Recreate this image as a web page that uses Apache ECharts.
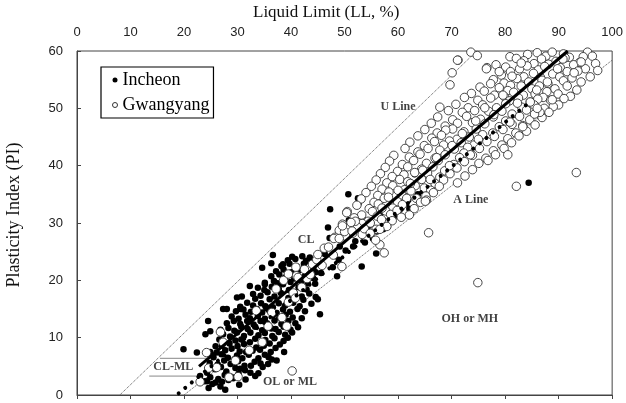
<!DOCTYPE html>
<html>
<head>
<meta charset="utf-8">
<script src="https://cdn.jsdelivr.net/npm/echarts@6/dist/echarts.min.js"></script>
<style>
  html, body { margin: 0; padding: 0; background: #fff; }
  #chart { width: 626px; height: 403px; }
</style>
</head>
<body>
<div id="chart"></div>
<script>
// Plasticity chart: Liquid Limit (LL) vs Plasticity Index (PI)

const xTicks = [0, 10, 20, 30, 40, 50, 60, 70, 80, 90, 100];
const yTicks = [0, 10, 20, 30, 40, 50, 60];

// Incheon samples [LL, PI]
const incheon = [
  [24.6,1.2],[26.8,1.5],[25.3,1.9],[27.7,0.9],
  [23.8,2.4],[25.9,2.2],[28.3,2.6],[30.3,1.8],[29.2,2.9],[27.1,2.3],
  [24.9,3.1],[26.4,2.8],[27.6,3.5],[31.5,2.7],[33.3,3.3],[30.2,3.7],[28.8,3.2],[32.4,3.9],
  [24.3,3.9],[25.8,4.5],[27.9,4.1],[29.6,4.7],[31.4,4.3],[33.9,3.8],[34.7,4.9],[32.5,5.1],[30.5,4.6],[26.9,4.9],
  [24.8,5.6],[26.3,5.3],[27.5,6.0],[28.7,5.4],[30.1,5.9],[31.3,5.1],[33.2,5.8],[35.7,5.4],[36.4,6.2],[29.5,6.3],[34.3,5.5],
  [25.5,6.6],[27.0,7.1],[28.2,6.5],[29.9,6.9],[30.9,6.4],[32.1,7.0],[33.9,6.4],[35.1,7.0],[37.3,6.0],[35.8,6.6],[31.6,7.5],[26.1,7.4],
  [24.9,7.5],[27.7,7.8],[28.9,8.1],[30.4,7.6],[32.8,7.7],[34.2,7.9],[36.2,7.5],[37.1,8.2],[38.7,7.5],[33.5,8.3],[30.0,8.5],[25.9,8.5],
  [27.1,8.6],[28.5,9.0],[31.2,8.9],[32.3,9.2],[34.9,8.6],[36.0,9.0],[37.9,8.8],[26.6,9.7],[29.6,9.5],[33.3,9.8],
  [35.2,9.6],[36.9,9.9],[38.6,9.4],[39.4,10.0],[30.7,9.7],
  [27.3,10.6],[28.6,10.2],[29.9,10.9],[31.2,10.3],[32.4,10.9],[33.9,10.4],[35.1,10.8],[36.5,10.3],[37.7,11.0],
  [38.9,10.5],[40.2,10.9],[34.6,11.3],[31.9,11.5],
  [26.8,11.4],[28.3,11.7],[29.4,11.2],[30.7,11.9],[33.3,11.9],[35.9,12.0],[37.1,11.5],[38.6,11.9],[39.9,11.4],[41.3,11.8],[36.3,11.6],
  [28.0,12.5],[29.3,12.9],[30.5,12.4],[31.8,12.9],[33.0,12.3],[34.3,12.9],[35.5,12.5],[36.9,13.0],[38.2,12.4],
  [39.5,12.9],[40.8,12.5],[32.3,13.4],
  [28.9,13.7],[30.2,13.3],[31.5,14.0],[33.8,13.8],[35.1,13.3],[36.6,13.9],[37.8,13.5],[39.0,14.0],[40.3,13.5],
  [42.0,13.4],[34.6,14.4],[29.7,14.6],
  [31.1,14.9],[32.5,14.5],[33.6,15.0],[35.9,14.8],[37.3,14.3],[38.5,14.9],[39.8,14.5],[41.2,15.0],[42.6,14.6],
  [45.4,14.1],[36.6,15.3],[30.5,15.4],
  [31.8,16.1],[32.9,15.6],[34.4,16.0],[35.2,15.5],[37.7,16.0],[38.9,15.6],[40.4,16.1],[41.6,15.5],[43.8,15.9],
  [33.3,16.8],[36.0,16.7],[39.5,16.9],[42.3,16.6],[45.0,16.7],
  [32.9,17.6],[34.3,17.3],[35.6,17.9],[36.9,17.2],[38.1,17.8],[40.7,17.7],[42.0,17.2],[43.4,17.7],[44.6,17.1],[39.6,18.3],
  [33.8,18.7],[35.0,18.3],[36.4,18.9],[37.7,18.5],[41.4,18.8],[42.9,18.4],[38.5,19.3],
  [35.1,19.6],[36.8,19.9],[37.5,19.5],[39.9,19.7],[40.6,20.3],[41.9,19.8],[43.1,19.5],[44.5,19.4],
  [36.3,20.7],[37.8,21.0],[38.9,20.5],[41.0,20.9],[42.4,20.6],[44.1,20.4],[43.2,21.3],
  [37.2,21.6],[38.6,21.9],[40.1,21.4],[41.5,21.8],[42.7,21.4],[45.6,21.3],
  [38.2,22.5],[39.7,22.9],[41.1,22.4],[42.4,22.9],[44.2,21.9],
  [39.4,23.5],[40.8,23.7],[43.6,23.1],[40.2,24.1],[42.8,23.4],
  [19.9,8.0],[22.4,7.4],[24.0,10.6],[24.5,12.9],[24.9,11.1],[27.3,15.0],[28.0,15.0],[29.9,17.0],
  [30.5,15.0],[30.8,17.2],[32.3,19.0],[35.1,19.3],[34.6,22.2],[36.3,23.0],[36.6,24.4],[38.5,22.8],
  [42.1,24.2],[43.5,24.0],[23.0,3.3],[24.3,2.4],
  [46.9,25.7],[46.9,29.2],[47.3,32.4],[50.7,35.0],[52.5,34.3],[52.6,33.4],[50.8,30.5],[49.1,25.9],
  [51.6,25.9],[53.2,22.4],[48.6,20.7],[53.8,26.6],[55.3,27.3],[56.0,28.5],[55.9,24.7],[57.2,28.9],
  [58.1,29.4],[58.7,30.3],[60.3,32.3],[60.6,32.6],[61.5,33.3],[62.1,32.5],[61.9,34.0],[63.1,38.5],
  [63.7,35.0],[84.4,37.0],[50.2,25.2],[45.2,23.0],[46.3,24.6],[47.8,22.3],[48.9,23.6],[44.6,21.4],
  [47.2,27.4],[49.5,27.9],[52.0,26.8],[54.5,29.5],[53.4,30.8],[56.6,31.2],[59.2,31.1]
];

// Gwangyang samples [LL, PI]
const gwangyang = [
  [73.6,59.8],[74.8,59.2],[80.9,59.0],[86.0,59.7],[87.6,59.1],[88.8,59.8],[90.9,59.5],[92.0,58.9],[95.4,59.8],[96.3,59.1],[84.2,59.4],
  [71.2,58.4],[83.5,58.3],[85.4,57.8],[86.8,58.6],[89.5,58.2],[91.2,58.8],[93.9,58.0],[96.9,57.8],[94.6,59.0],[82.1,58.7],[88.1,57.7],
  [76.6,57.1],[78.3,57.6],[82.7,56.9],[84.1,57.4],[86.2,56.7],[87.4,57.3],[90.3,57.1],[92.8,57.6],[95.0,56.9],[97.3,56.6],[80.1,57.2],[91.6,56.4],
  [70.1,56.2],[79.3,55.8],[81.0,56.4],[83.5,55.5],[85.3,56.1],[88.9,56.0],[93.6,56.5],[95.9,55.5],[86.6,55.4],[90.2,55.5],
  [77.8,55.0],[79.8,54.4],[82.2,55.2],[84.4,54.6],[86.9,54.9],[88.0,54.3],[90.9,54.8],[92.5,55.3],[94.2,54.6],[81.0,54.0],
  [75.3,53.7],[77.3,54.3],[78.9,53.6],[83.0,53.9],[85.0,53.4],[86.4,53.9],[89.3,53.4],[91.6,53.9],[93.4,53.2],[80.5,53.1],[87.8,52.9],
  [73.7,52.6],[76.1,53.0],[78.0,52.3],[81.6,52.8],[83.4,52.3],[85.6,52.5],[89.9,52.5],[92.2,52.1],[79.9,52.0],[87.1,51.9],
  [72.4,51.9],[74.9,51.4],[77.3,51.8],[80.8,51.3],[82.5,51.8],[84.7,51.1],[86.1,51.6],[88.5,51.4],[91.0,51.7],[90.0,50.6],
  [70.8,50.7],[73.1,50.1],[75.8,50.6],[78.4,50.1],[80.1,50.8],[83.1,50.2],[85.4,50.6],[87.3,50.0],[89.0,50.3],[76.9,49.5],
  [69.4,49.6],[72.0,49.3],[74.3,49.6],[79.4,49.5],[81.3,49.0],[84.0,49.7],[86.5,49.0],[88.2,49.3],[82.7,48.6],
  [67.4,48.5],[70.2,48.0],[72.8,48.6],[75.4,48.1],[77.8,48.5],[80.1,47.8],[84.6,48.0],[86.9,48.4],[73.9,47.5],
  [66.2,47.4],[68.8,46.9],[71.1,47.4],[76.2,47.3],[78.9,46.8],[81.3,47.2],[83.3,47.0],[85.6,47.1],[70.2,46.4],
  [65.0,46.3],[67.3,45.7],[68.9,46.2],[72.3,45.9],[74.6,46.4],[77.7,45.7],[79.6,46.3],[82.0,45.7],[84.0,46.0],[75.8,45.4],
  [63.7,45.2],[66.3,44.8],[68.1,45.3],[71.0,44.6],[73.3,45.0],[78.0,45.1],[80.5,44.7],[82.6,45.2],[69.6,44.3],
  [62.2,44.1],[64.9,43.5],[66.8,44.2],[68.5,43.6],[71.8,44.0],[74.2,43.6],[76.6,44.2],[79.4,43.6],[81.2,44.0],[73.0,43.2],
  [61.3,43.0],[63.7,42.4],[65.6,43.0],[67.8,42.7],[70.5,42.9],[75.2,43.0],[77.8,42.6],[79.8,43.0],[72.3,42.2],
  [59.2,41.8],[62.1,41.5],[64.1,42.0],[66.9,41.3],[68.8,41.9],[71.5,41.4],[73.9,41.8],[76.4,41.3],[78.2,41.9],
  [58.4,40.8],[60.8,40.2],[62.9,40.9],[65.3,40.4],[67.5,40.9],[70.4,40.2],[72.4,40.7],[75.1,40.4],[76.8,40.9],
  [57.6,39.7],[59.9,39.0],[61.8,39.8],[64.4,39.4],[66.5,39.8],[68.7,39.1],[71.0,39.6],[73.9,39.3],[63.1,38.8],
  [56.7,38.6],[58.9,38.1],[61.1,38.4],[65.5,38.7],[67.8,38.0],[69.7,38.6],[72.5,38.2],[60.3,37.6],
  [55.9,37.5],[57.9,37.0],[61.8,37.2],[64.4,37.6],[66.9,36.9],[68.5,37.5],[71.1,37.0],[63.2,36.5],
  [55.0,36.4],[57.0,35.9],[59.0,36.5],[61.2,35.8],[64.9,36.1],[66.1,35.7],[67.7,36.4],
  [54.0,35.3],[56.2,34.8],[58.3,35.4],[60.7,34.9],[62.4,35.6],[65.2,34.7],[66.6,35.3],[63.4,34.3],
  [53.1,34.2],[55.5,33.6],[57.4,34.3],[59.9,33.7],[61.6,34.3],[64.2,33.6],[65.3,34.0],
  [52.3,33.1],[54.6,32.5],[56.3,33.3],[59.0,32.6],[60.8,33.2],[63.0,32.5],[57.7,32.1],
  [50.5,32.0],[53.2,31.4],[55.2,32.0],[58.6,31.5],[59.8,32.2],[62.1,31.4],[56.1,31.2],
  [51.8,30.9],[54.4,30.3],[56.9,30.6],[58.9,30.4],[60.6,31.0],[53.3,29.9],
  [49.6,29.8],[52.4,29.3],[54.8,30.0],[57.9,29.4],[55.9,28.9],
  [49.0,28.7],[51.5,28.2],[56.6,28.9],[53.3,28.0],
  [48.2,27.5],[50.2,27.7],
  [78.9,56.4],[81.3,55.6],[83.0,57.9],[85.9,53.2],[87.9,54.6],[89.8,56.9],[79.6,52.3],[82.3,50.9],
  [84.7,51.1],[86.5,49.3],[88.8,51.5],[76.2,50.1],[77.9,48.9],[80.9,47.6],[74.5,47.8],[72.0,45.6],
  [75.0,44.6],[70.1,43.5],[73.5,41.9],[67.2,41.4],[69.6,40.0],[64.6,39.2],[66.0,37.6],[62.3,36.9],
  [60.0,35.7],[58.2,34.5],[57.0,32.6],[90.8,58.6],[92.9,56.2],[94.2,58.1],[71.1,58.4],[76.5,56.9],
  [69.7,54.1],[67.8,50.2],[83.3,46.8],[85.5,49.0],[86.0,50.0],
  [65.7,28.3],[74.9,19.6],[82.1,36.4],[93.3,38.8],[80.5,41.9],[65.1,33.8],
  [24.2,7.4],[26.8,11.0],[27.3,9.2],[24.6,4.7],[26.1,4.8],[28.4,3.1],[30.1,3.2],[23.0,2.3],
  [34.6,9.2],[36.4,14.4],[38.3,13.5],[39.2,12.0],[39.5,16.2],[40.4,17.8],[40.8,16.9],[40.2,4.2],
  [41.0,20.8],[40.9,22.3],[38.6,20.0],[39.5,21.1],[41.3,20.5],[42.5,21.9],[43.0,20.3],[44.0,22.8],
  [44.8,23.6],[45.8,22.6],[46.2,25.6],[47.0,25.8],[48.0,27.3],[49.0,27.3],[49.5,22.4],[50.0,28.5],
  [51.4,28.6],[52.0,30.3],[50.4,31.8],[49.6,29.5],[51.2,30.1],[37.2,18.5],[42.0,18.8],[43.6,21.0],
  [45.0,24.5],[47.9,24.4],[53.7,29.0],[56.6,26.2],[57.4,24.8],[54.8,28.2],[55.8,27.0],[32.2,7.8],
  [35.7,12.0],[33.5,14.7],[29.6,6.0]
];

// Fitted trend lines (endpoints)
const trendAll = [[22.8, 5.0], [91.7, 60.0]];
const trendIncheon = [[19.0, 0.3], [84.2, 50.8]];
// Classification reference lines
const uLine = [[8, 0], [74.7, 60]];
const aLine = [[20, 0], [100, 58.4]];
const clmlUpper = [[15.5, 6.4], [24.2, 6.4]];
const clmlLower = [[13.5, 3.3], [22.8, 3.3]];

// Zone annotations [LL, PI, text]
const zoneLabels = [
  [60.0, 50.3, 'U Line'],
  [73.6, 34.1, 'A Line'],
  [42.8, 27.1, 'CL'],
  [73.4, 13.2, 'OH or MH'],
  [39.8, 2.3, 'OL or ML'],
  [18.0, 4.9, 'CL-ML']
];

const serif = '"Liberation Serif", "Times New Roman", serif';
const sans = '"Liberation Sans", Arial, sans-serif';

const chart = echarts.init(document.getElementById('chart'), null, { renderer: 'canvas' });

function refLine(data, color, type, width) {
  return {
    type: 'line', data: data, symbol: 'none', silent: true,
    lineStyle: { color: color, width: width, type: type }, z: 3
  };
}

chart.setOption({
  animation: false,
  backgroundColor: '#fff',
  title: {
    text: 'Liquid Limit (LL, %)',
    left: 253, top: 4, padding: 0,
    textStyle: { fontFamily: serif, fontSize: 17, fontWeight: 'normal', color: '#111' }
  },
  graphic: [{
    type: 'text', x: 14, y: 215, rotation: Math.PI / 2,
    style: { text: 'Plasticity Index (PI)', font: '18px ' + serif, fill: '#111',
             textAlign: 'center', textVerticalAlign: 'middle' }
  }],
  legend: {
    orient: 'vertical', left: 101, top: 67,
    padding: [4, 4, 4, 11], itemGap: 7, itemWidth: 5, itemHeight: 5,
    borderColor: '#000', borderWidth: 1.2, backgroundColor: '#fff',
    textStyle: { fontFamily: serif, fontSize: 18, color: '#000' },
    data: [
      { name: 'Incheon', icon: 'circle', itemStyle: { color: '#000', opacity: 1 } },
      { name: 'Gwangyang', icon: 'circle', itemStyle: { color: '#fff', borderColor: '#333', borderWidth: 1, opacity: 1 } }
    ]
  },
  grid: { left: 77, right: 13, top: 51, bottom: 8, show: true, borderColor: '#444', borderWidth: 1 },
  xAxis: {
    type: 'value', position: 'top', min: xTicks[0], max: xTicks[xTicks.length - 1], interval: 10,
    axisLine: { show: true, lineStyle: { color: '#444', width: 1 } },
    axisTick: { show: true, inside: true, length: 4, lineStyle: { color: '#444' } },
    axisLabel: { margin: 12, fontFamily: sans, fontSize: 13, color: '#222' },
    splitLine: { show: false }
  },
  yAxis: {
    type: 'value', min: yTicks[0], max: yTicks[yTicks.length - 1], interval: 10,
    axisLine: { show: true, lineStyle: { color: '#444', width: 1 } },
    axisTick: { show: true, inside: true, length: 4, lineStyle: { color: '#444' } },
    axisLabel: { margin: 14, fontFamily: sans, fontSize: 13, color: '#222' },
    splitLine: { show: false }
  },
  series: [
    refLine(uLine, '#555', 'dotted', 1),
    refLine(aLine, '#555', 'dotted', 1),
    refLine(clmlUpper, '#888', 'solid', 1),
    refLine(clmlLower, '#888', 'solid', 1),
    {
      name: 'Incheon', type: 'scatter', data: incheon, symbol: 'circle', symbolSize: 6.5,
      itemStyle: { color: '#000', opacity: 1 }, z: 4
    },
    {
      name: 'Gwangyang', type: 'scatter', data: gwangyang, symbol: 'circle', symbolSize: 8.5,
      itemStyle: { color: '#fff', borderColor: '#333', borderWidth: 0.9, opacity: 1 }, z: 5
    },
    {
      type: 'line', data: trendIncheon, symbol: 'none', silent: true, z: 6,
      lineStyle: { color: '#000', width: 4, type: [0.01, 8.5], cap: 'round' }
    },
    {
      type: 'line', data: trendAll, symbol: 'none', silent: true, z: 7,
      lineStyle: { color: '#000', width: 3, type: 'solid' }
    },
    {
      type: 'scatter', silent: true, z: 8, symbolSize: 1,
      itemStyle: { color: 'rgba(0,0,0,0)' },
      data: zoneLabels.map(function (d) { return { value: [d[0], d[1]], name: d[2] }; }),
      label: {
        show: true, position: 'inside', formatter: '{b}',
        fontFamily: serif, fontSize: 12, fontWeight: 'bold', color: '#111'
      }
    }
  ]
});
</script>
</body>
</html>
